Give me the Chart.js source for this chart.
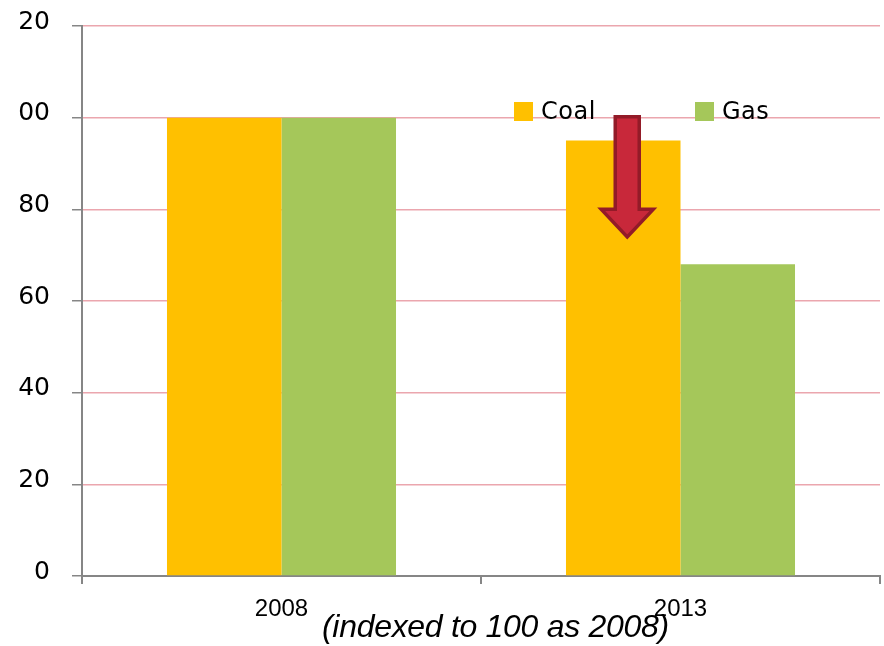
<!DOCTYPE html>
<html>
<head>
<meta charset="utf-8">
<script src="https://cdn.jsdelivr.net/npm/chart.js@4.4.1/dist/chart.umd.min.js"></script>
<style>
  html, body { margin: 0; padding: 0; background: #fff; }
  #wrap { position: absolute; left: 0; top: 0; width: 884px; height: 646px; overflow: hidden; }
  /* the reference picture is cropped on its left edge, cutting the "1" off 120 / 100 */
  #clip { position: absolute; left: 18px; top: 0; width: 866px; height: 646px; overflow: hidden; }
  #myChart { position: absolute; left: -18px; top: -11px; }
  .legend { position: absolute; top: 97px; font: 24px "DejaVu Sans"; color: #000; letter-spacing: 0.5px; }
  .legend span { display: inline-block; width: 19px; height: 19px; vertical-align: -2px; margin-right: 8px; }
  #note { position: absolute; left: 322px; top: 608px; font: italic 32px "Liberation Sans"; color: #000; white-space: nowrap; letter-spacing: -0.3px; }
</style>
</head>
<body>
<div id="wrap">
  <div id="clip"><canvas id="myChart" width="884" height="657"></canvas></div>
  <div id="note">(indexed to 100 as 2008)</div>
</div>
<script>
const years = ['2008', '2013'];
const seriesNames = ['Coal', 'Gas'];
const coalValues = [100, 95];
const gasValues = [100, 68];
const yTicks = [0, 20, 40, 60, 80, 100, 120];
// arrow annotation: from / to (index values)
const arrowFrom = 100;
const arrowHead = 80;
const arrowTo = 74;

const colors = ['#FFC000', '#A5C75A'];

// setup
const data = {
  labels: years,
  datasets: [
    { label: seriesNames[0], data: coalValues, backgroundColor: colors[0] },
    { label: seriesNames[1], data: gasValues, backgroundColor: colors[1] }
  ]
};

// legend in the plot, like the original
const legendPos = [514, 695];
seriesNames.forEach((n, i) => {
  const d = document.createElement('div');
  d.className = 'legend';
  d.style.left = legendPos[i] + 'px';
  d.innerHTML = '<span style="background:' + colors[i] + '"></span>' + n;
  document.getElementById('wrap').appendChild(d);
});

// the red down arrow over the 2013 coal bar
const arrowPlugin = {
  id: 'arrow',
  afterDatasetsDraw(chart) {
    const ctx = chart.ctx;
    const y = chart.scales.y;
    const bar = chart.getDatasetMeta(0).data[1];
    const cx = bar.x + 4;
    const top = y.getPixelForValue(arrowFrom) - 1;
    const hb = y.getPixelForValue(arrowHead);
    const tip = y.getPixelForValue(arrowTo);
    const sw = 12, hw = 26;
    ctx.save();
    ctx.beginPath();
    ctx.moveTo(cx - sw, top);
    ctx.lineTo(cx + sw, top);
    ctx.lineTo(cx + sw, hb);
    ctx.lineTo(cx + hw, hb);
    ctx.lineTo(cx, tip);
    ctx.lineTo(cx - hw, hb);
    ctx.lineTo(cx - sw, hb);
    ctx.closePath();
    ctx.fillStyle = '#C8283A';
    ctx.fill();
    ctx.lineWidth = 3.5;
    ctx.lineJoin = 'miter';
    ctx.strokeStyle = '#931B28';
    ctx.stroke();
    ctx.restore();
  }
};

// config
const config = {
  type: 'bar',
  data,
  options: {
    responsive: false,
    animation: false,
    layout: { padding: { left: 0, right: 4, top: 14, bottom: 0 } },
    datasets: { bar: { categoryPercentage: 0.574, barPercentage: 1.0 } },
    plugins: {
      legend: { display: false },
      tooltip: { enabled: false }
    },
    scales: {
      x: {
        afterFit: s => { s.height = 70; },
        grid: { offset: true, drawOnChartArea: false, tickLength: 8, tickColor: '#868686', lineWidth: 2 },
        border: { color: '#868686', width: 2 },
        ticks: { color: '#000', font: { family: 'Liberation Sans', size: 24 }, padding: 11 }
      },
      y: {
        min: 0,
        max: 120,
        afterFit: s => { s.width = 82; },
        afterBuildTicks: s => { s.ticks = yTicks.map(v => ({ value: v })); },
        grid: { color: '#EBA6AE', lineWidth: 1.5, tickLength: 10, tickColor: '#868686' },
        border: { color: '#868686', width: 2 },
        ticks: {
          color: '#000',
          font: { family: 'DejaVu Sans', size: 25 },
          padding: 22,
          labelOffset: -4
        }
      }
    }
  },
  plugins: [arrowPlugin]
};

const myChart = new Chart(document.getElementById('myChart'), config);
</script>
</body>
</html>
